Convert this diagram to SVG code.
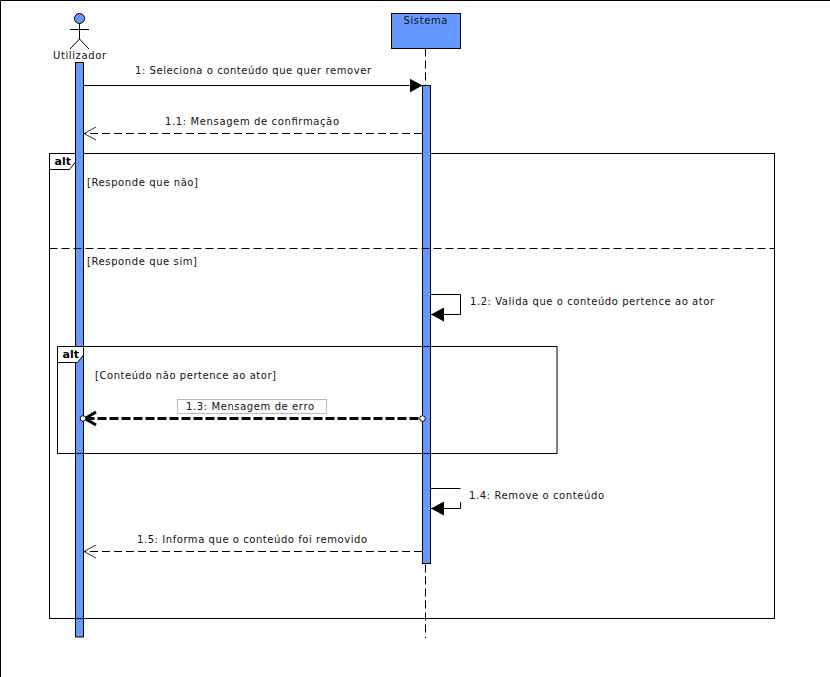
<svg xmlns="http://www.w3.org/2000/svg" width="830" height="677" viewBox="0 0 830 677">
<style>
text{font-family:"DejaVu Sans",sans-serif;font-size:10px;fill:#111}
.b{font-weight:bold;font-size:11px;fill:#000}
.l{fill:none;stroke:#000;stroke-width:1}
.d{fill:none;stroke:#000;stroke-width:1;stroke-dasharray:8 4}
.bar{fill:#6699ff;stroke:#000;stroke-width:1}
</style>
<defs>
<marker id="solid" markerUnits="userSpaceOnUse" markerWidth="14" markerHeight="14" refX="13" refY="7" orient="auto"><path d="M0 0L13 7L0 14Z" fill="#000"/></marker>
<marker id="open" markerUnits="userSpaceOnUse" markerWidth="14" markerHeight="14" refX="13" refY="7" orient="auto"><path d="M1 0.5L13 7L1 13.5" fill="none" stroke="#333" stroke-width="1"/></marker>
</defs>
<rect width="830" height="677" fill="#fff"/>
<path class="l" d="M0.5 677V0.5H830"/>
<g id="sistema-lifeline"><path class="d" d="M425.5 48.5V638"/></g>
<g id="frame-outer">
<rect class="l" x="49.5" y="153.5" width="725" height="465"/>
<path d="M49.5 169.5H69.5L75.5 162V153.5H49.5Z" fill="#fff" stroke="#000"/>
<text class="b" x="54.5" y="164.5">alt</text>
<text x="87" y="186" textLength="111">[Responde que não]</text>
<text x="87" y="265" textLength="110">[Responde que sim]</text>
</g>
<g id="utilizador">
<circle cx="79.5" cy="18.5" r="5" class="bar"/>
<path class="l" d="M79.5 23.5V39M70 29.5H89M70 49L79.5 39L89 49"/>
<text x="53" y="59" textLength="53">Utilizador</text>
<rect class="bar" x="75.5" y="62.5" width="8" height="574.5"/>
</g>
<g id="sistema">
<rect class="bar" x="391.5" y="13.5" width="69" height="35"/>
<text x="403.5" y="24" textLength="44">Sistema</text>
<rect class="bar" x="422.5" y="85.5" width="8" height="478"/>
</g>
<g id="frame-outer-over">
<path class="d" d="M49.5 248.5H774.5" stroke-dasharray="6 3"/>
<path class="l" d="M49.5 618.5H774.5"/>
</g>
<g id="frame-inner">
<rect class="l" x="57.5" y="346.5" width="499.5" height="107"/>
<path d="M57.5 362.5H77.5L83.5 355V346.5H57.5Z" fill="#fff" stroke="#000"/>
<text class="b" x="62.5" y="357.5">alt</text>
<text x="95" y="379" textLength="181">[Conteúdo não pertence ao ator]</text>
</g>
<g id="connectors">
<path class="l" d="M83.5 85.5H422.5" marker-end="url(#solid)"/>
<path class="d" d="M422 133.5H84" marker-end="url(#open)"/>
<path class="l" d="M430.5 294.5H460.5V314.5H431" marker-end="url(#solid)"/>
<path d="M418.5 418.5H88" fill="none" stroke="#000" stroke-width="3" stroke-dasharray="9 3"/>
<path d="M96 412L85 418.5L96 425" fill="none" stroke="#000" stroke-width="3"/>
<circle cx="83" cy="418.5" r="2.8" fill="#fff" stroke="#000"/>
<circle cx="422.5" cy="418.5" r="2.8" fill="#fff" stroke="#000"/>
<path class="l" d="M430.5 488.5H460.5M460.5 502V508.5H431" marker-end="url(#solid)"/>
<path class="d" d="M422 551.5H84" marker-end="url(#open)"/>
</g>
<g id="labels">
<text x="135" y="74" textLength="236">1: Seleciona o conteúdo que quer remover</text>
<text x="165" y="125" textLength="174">1.1: Mensagem de confirmação</text>
<text x="470" y="305" textLength="244">1.2: Valida que o conteúdo pertence ao ator</text>
<rect x="177.5" y="399.5" width="149" height="14" fill="#fff" stroke="#bbb"/>
<text x="186" y="410" textLength="128">1.3: Mensagem de erro</text>
<text x="469" y="499" textLength="135">1.4: Remove o conteúdo</text>
<text x="137" y="543" textLength="230">1.5: Informa que o conteúdo foi removido</text>
</g>
</svg>
